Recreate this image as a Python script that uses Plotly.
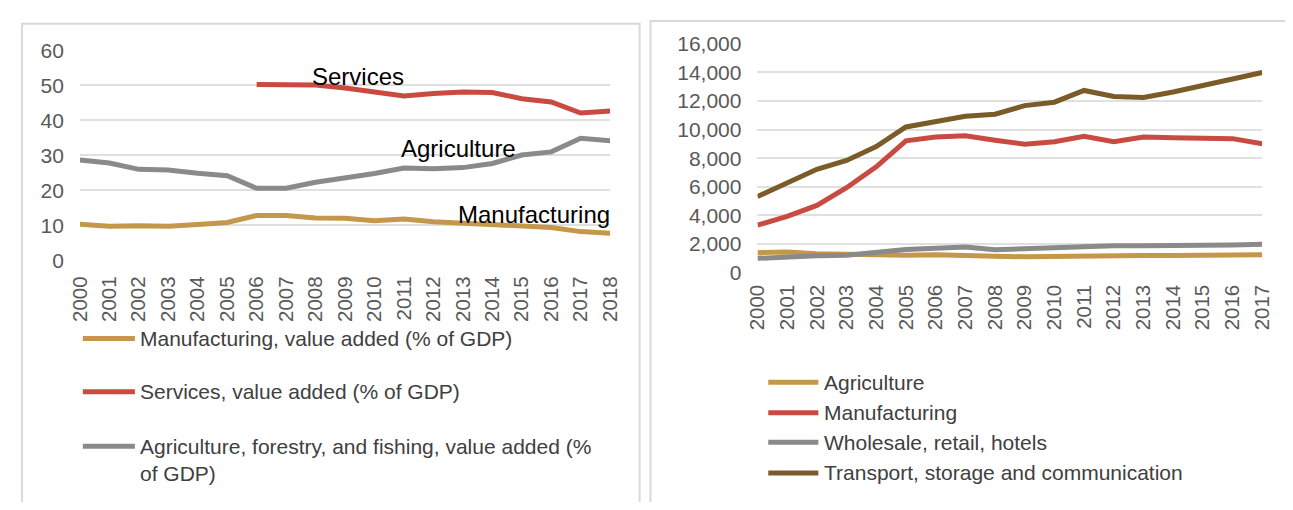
import plotly.graph_objects as go

# ---------------- data ----------------
years_left = ["2000", "2001", "2002", "2003", "2004", "2005", "2006", "2007", "2008", "2009",
              "2010", "2011", "2012", "2013", "2014", "2015", "2016", "2017", "2018"]
manuf_pct = [10.3, 9.7, 9.9, 9.7, 10.2, 10.8, 12.8, 12.8, 12.1, 12.0,
             11.3, 11.8, 11.0, 10.6, 10.0, 9.5, 9.4, 8.2, 7.7]
services_pct = [None, None, None, None, None, None, 50.3, 50.1, 50.1, 49.3,
                48.2, 47.0, 47.7, 48.1, 48.0, 46.2, 45.3, 42.1, 42.7]
agri_pct = [28.7, 27.8, 26.0, 25.8, 24.9, 24.2, 20.6, 20.6, 22.3, 23.4,
            24.8, 26.4, 26.2, 26.5, 27.7, 30.1, 31.0, 34.9, 34.2]
left_names = ["Manufacturing, value added (% of GDP)",
              "Services, value added (% of GDP)",
              "Agriculture, forestry, and fishing, value added (%<br>of GDP)"]
left_labels = ["Services", "Agriculture", "Manufacturing"]

years_right = ["2000", "2001", "2002", "2003", "2004", "2005", "2006", "2007", "2008",
               "2009", "2010", "2011", "2012", "2013", "2014", "2015", "2016", "2017"]
agri_val = [1400, 1440, 1330, 1290, 1200, 1220, 1260, 1240, 1150,
            1110, 1150, 1175, 1175, 1200, 1200, 1240, 1240, 1260]
manuf_val = [3320, 3940, 4700, 5940, 7400, 9220, 9490, 9570, 9260,
             8980, 9150, 9530, 9150, 9490, 9440, 9440, 9370, 9020]
trade_val = [1000, 1110, 1175, 1220, 1400, 1620, 1710, 1800, 1600,
             1690, 1770, 1840, 1880, 1880, 1880, 1930, 1930, 1990]
transport_val = [5320, 6250, 7230, 7850, 8820, 10190, 10590, 10930, 11080,
                 11680, 11920, 12740, 12320, 12250, 12630, 13070, 13560, 14000]
right_names = ["Agriculture", "Manufacturing", "Wholesale, retail, hotels",
               "Transport, storage and communication"]
right_ticks = [0, 2000, 4000, 6000, 8000, 10000, 12000, 14000, 16000]
left_ticks = [0, 10, 20, 30, 40, 50, 60]

# ---------------- style ----------------
# the page body keeps its default 8px margin, so the figure is sized to fit
# exactly inside the 1293x510 window and positions are given in window pixels
OX, OY = 8, 8
FW, FH = 1293 - 2 * OX, 510 - 2 * OY
GOLD = "#C4974A"
RED = "#C94A40"
GRAY = "#8A8A8A"
BROWN = "#7B5C28"
FONT = "Liberation Sans, Arial, sans-serif"
TICK = "#595959"
TXT = "#404040"
GRID = "#E0E0E0"
LW = 5


def px(x):
    return (x - OX) / FW


def py(y):
    return 1 - (y - OY) / FH


fig = go.Figure()

left_series = [(manuf_pct, GOLD), (services_pct, RED), (agri_pct, GRAY)]
for (vals, col), name in zip(left_series, left_names):
    fig.add_trace(go.Scatter(x=years_left, y=vals, mode="lines", name=name,
                             line=dict(color=col, width=LW), xaxis="x", yaxis="y",
                             connectgaps=False, showlegend=False))

right_series = [(agri_val, GOLD), (manuf_val, RED), (trade_val, GRAY), (transport_val, BROWN)]
for (vals, col), name in zip(right_series, right_names):
    fig.add_trace(go.Scatter(x=years_right, y=vals, mode="lines", name=name,
                             line=dict(color=col, width=LW), xaxis="x2", yaxis="y2",
                             showlegend=False))

xfont = dict(family=FONT, size=20.5, color=TICK)
yfont = dict(family=FONT, size=21, color=TICK)

fig.update_layout(
    width=FW, height=FH,
    margin=dict(l=0, r=0, t=0, b=0),
    paper_bgcolor="white", plot_bgcolor="white",
    font=dict(family=FONT, color=TXT),
    xaxis=dict(domain=[px(69), px(609)], type="category", tickangle=-90,
               anchor="y", showgrid=False, zeroline=False, showline=False, ticks="",
               ticklabelstandoff=11, tickfont=xfont),
    yaxis=dict(domain=[py(260), py(40)], range=[0, 60], tickvals=left_ticks,
               showgrid=True, gridcolor=GRID, gridwidth=2, anchor="x",
               zeroline=False, showline=False, ticks="", ticklabelstandoff=15,
               tickfont=yfont),
    xaxis2=dict(domain=[px(759), px(1273)], type="category", tickangle=-90,
                anchor="y2", showgrid=False, zeroline=False, showline=False, ticks="",
                ticklabelstandoff=7, tickfont=xfont),
    yaxis2=dict(domain=[py(273), py(33)], range=[0, 16000], tickvals=right_ticks,
                tickformat=",d", showgrid=True, gridcolor=GRID, gridwidth=2,
                anchor="x2", zeroline=False, showline=False, ticks="",
                ticklabelstandoff=15, tickfont=yfont),
)

shapes = []
annotations = []

# panel borders
shapes.append(dict(type="rect", xref="paper", yref="paper", x0=px(10), x1=px(639),
                   y0=py(530), y1=py(12), line=dict(color="#D9D9D9", width=2),
                   fillcolor="rgba(0,0,0,0)", layer="below"))
shapes.append(dict(type="rect", xref="paper", yref="paper", x0=px(650), x1=px(1310),
                   y0=py(530), y1=py(9), line=dict(color="#D9D9D9", width=2),
                   fillcolor="rgba(0,0,0,0)", layer="below"))

# in-chart labels (left)
label_pos = [(352, 67), (455, 143), (531, 212)]
for text, (lx, ly) in zip(left_labels, label_pos):
    annotations.append(dict(text=text, xref="paper", yref="paper", x=px(lx), y=py(ly),
                            xanchor="center", yanchor="middle", showarrow=False,
                            font=dict(family=FONT, size=24, color="black")))

# manual legends
left_leg_y = [342, 398, 455]
for (vals, col), name, ly in zip(left_series, left_names, left_leg_y):
    shapes.append(dict(type="line", xref="paper", yref="paper", x0=px(72), x1=px(125),
                       y0=py(ly), y1=py(ly), line=dict(color=col, width=5)))
    annotations.append(dict(text=name, xref="paper", yref="paper", x=px(128), y=py(ly - 14),
                            xanchor="left", yanchor="top", align="left", showarrow=False,
                            font=dict(family=FONT, size=21, color=TXT)))

right_leg_y = [388, 420, 451, 483]
for (vals, col), name, ly in zip(right_series, right_names, right_leg_y):
    shapes.append(dict(type="line", xref="paper", yref="paper", x0=px(770), x1=px(821),
                       y0=py(ly), y1=py(ly), line=dict(color=col, width=5)))
    annotations.append(dict(text=name, xref="paper", yref="paper", x=px(825), y=py(ly),
                            xanchor="left", yanchor="middle", align="left", showarrow=False,
                            font=dict(family=FONT, size=21, color=TXT)))

fig.update_layout(shapes=shapes, annotations=annotations)

fig.write_html("out.html", config={"displayModeBar": False})
